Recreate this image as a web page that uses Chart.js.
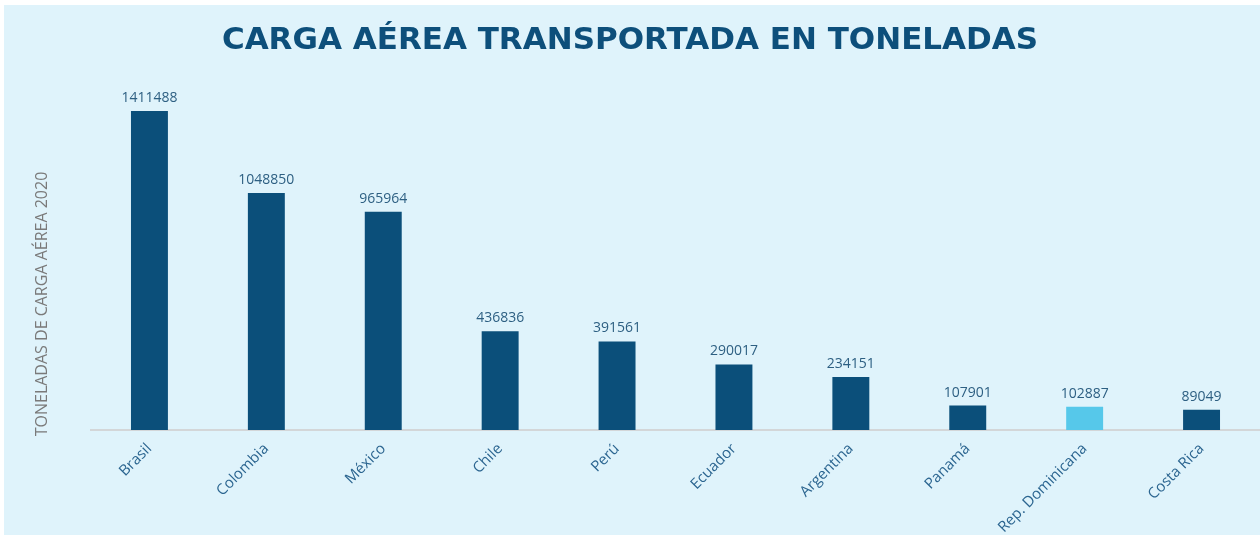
<!DOCTYPE html>
<html>
<head>
<meta charset="utf-8">
<script src="https://cdn.jsdelivr.net/npm/chart.js@4/dist/chart.umd.min.js"></script>
<style>
  html, body { margin: 0; padding: 0; background: #ffffff; }
  #wrap { position: relative; width: 1260px; height: 535px; }
  #bg { position: absolute; left: 4px; top: 5px; right: 0; bottom: 0; background: #dff3fb; }
  #chart { position: absolute; left: 0; top: 0; }
</style>
</head>
<body>
<div id="wrap">
  <div id="bg"></div>
  <canvas id="chart" width="1260" height="535"></canvas>
</div>
<script>
// datos
const paises = ["Brasil", "Colombia", "México", "Chile", "Perú", "Ecuador", "Argentina", "Panamá", "Rep. Dominicana", "Costa Rica"];
const toneladas = [1411488, 1048850, 965964, 436836, 391561, 290017, 234151, 107901, 102887, 89049];
const destacado = "Rep. Dominicana";

const titulo = "CARGA AÉREA TRANSPORTADA EN TONELADAS";
const tituloEje = "TONELADAS DE CARGA AÉREA 2020";

const FONT = "'Open Sans', 'Noto Sans', sans-serif";

// etiquetas de valor encima de cada barra
const valueLabels = {
  id: "valueLabels",
  afterDatasetsDraw(chart) {
    const ctx = chart.ctx;
    const meta = chart.getDatasetMeta(0);
    ctx.save();
    ctx.font = "14px " + FONT;
    ctx.fillStyle = "#2d5f82";
    ctx.textAlign = "center";
    ctx.textBaseline = "bottom";
    meta.data.forEach((bar, i) => {
      ctx.fillText(String(chart.data.datasets[0].data[i]), bar.x, bar.y - 6);
    });
    ctx.restore();
  },
};

// titulo del eje Y (va centrado mas abajo que el eje)
const yTitle = {
  id: "yTitle",
  afterDraw(chart) {
    const ctx = chart.ctx;
    ctx.save();
    ctx.translate(42, 304);
    ctx.rotate(-Math.PI / 2);
    ctx.font = "16px " + FONT;
    ctx.fillStyle = "#7a7a7a";
    ctx.textAlign = "center";
    ctx.textBaseline = "middle";
    ctx.fillText(tituloEje, 0, 0);
    ctx.restore();
  },
};

const colores = paises.map((p) => (p === destacado ? "#56c8ea" : "#0b4f7a"));

new Chart(document.getElementById("chart"), {
  type: "bar",
  data: {
    labels: paises,
    datasets: [
      {
        data: toneladas,
        backgroundColor: colores,
        barPercentage: 0.316,
        categoryPercentage: 1,
      },
    ],
  },
  options: {
    responsive: false,
    animation: false,
    layout: { padding: 0 },
    plugins: {
      legend: { display: false },
      tooltip: { enabled: false },
      title: {
        display: true,
        text: titulo,
        color: "#0d4f7b",
        font: { family: "'DejaVu Sans', sans-serif", size: 31, weight: "bold", lineHeight: 1.2 },
        padding: { top: 22, bottom: 9.2 },
      },
    },
    scales: {
      x: {
        grid: { display: false },
        border: { display: true, color: "#d3d6d8", width: 2 },
        ticks: {
          autoSkip: false,
          maxRotation: 45,
          minRotation: 45,
          color: "#2b6590",
          padding: 2,
          font: { family: FONT, size: 15 },
        },
        afterFit(scale) {
          scale.height = 105;
        },
      },
      y: {
        min: 0,
        max: 1600000,
        grid: { display: false },
        border: { display: false },
        ticks: { display: false },
        afterFit(scale) {
          scale.width = 91;
        },
      },
    },
  },
  plugins: [valueLabels, yTitle],
});
</script>
</body>
</html>
